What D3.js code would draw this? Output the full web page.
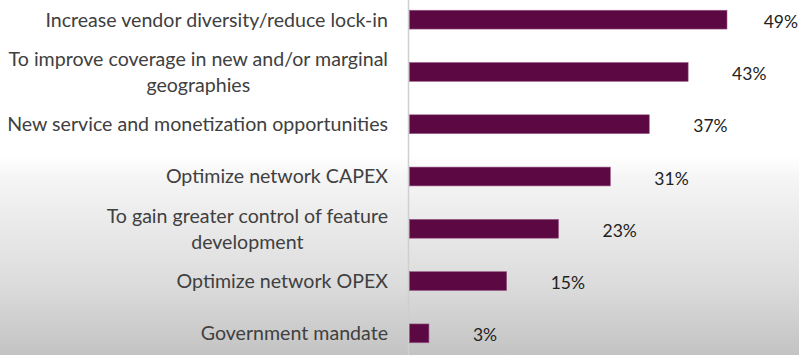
<!DOCTYPE html>
<html><head><meta charset="utf-8">
<script src="https://cdn.jsdelivr.net/npm/d3@7"></script>
<style>html,body{margin:0;padding:0;overflow:hidden;background:#fff}</style>
</head><body><svg id="c" width="799" height="355"></svg>
<script>
const categories = [
  ["Increase vendor diversity/reduce lock-in"],
  ["To improve coverage in new and/or marginal", "geographies"],
  ["New service and monetization opportunities"],
  ["Optimize network CAPEX"],
  ["To gain greater control of feature", "development"],
  ["Optimize network OPEX"],
  ["Government mandate"]
];
const values = [49, 43, 37, 31, 23, 15, 3];
const valueLabels = ["49%", "43%", "37%", "31%", "23%", "15%", "3%"];

const W = 799, H = 355;
const svg = d3.select("#c");
const defs = svg.append("defs");
const g = defs.append("linearGradient").attr("id","bg").attr("x1",0).attr("y1",0).attr("x2",0).attr("y2",1);
[[0,"#ffffff"],[0.44,"#ffffff"],[0.5,"#f5f5f5"],[0.8,"#dcdcdc"],[1,"#c3c3c3"]].forEach(s=>g.append("stop").attr("offset",s[0]).attr("stop-color",s[1]));
svg.append("rect").attr("width",W).attr("height",H).attr("fill","url(#bg)");

const x0 = 409.5;
const x = d3.scaleLinear().domain([0, 49]).range([x0, 727]);
const idx = d3.range(values.length);
const y = d3.scaleBand().domain(idx).range([-6.5, 359.5]).paddingInner(0.64).paddingOuter(0.32);

svg.append("line").attr("x1",408.5).attr("x2",408.5).attr("y1",0).attr("y2",H)
  .attr("stroke","#cfcfcf").attr("stroke-width",1.5);

svg.selectAll("rect.bar").data(idx).join("rect").attr("class","bar")
  .attr("x", x0).attr("y", i=>y(i)).attr("width", i=>x(values[i])-x0).attr("height", y.bandwidth())
  .attr("fill","#5c0843").attr("stroke","#9a5a86").attr("stroke-width",0.6);

const font = "Lato, 'Open Sans', sans-serif";
const labelRight = 388;
const cats = svg.selectAll("text.cat").data(idx).join("text").attr("class","cat")
  .attr("font-family",font).attr("font-size",19.6).attr("fill","#404040");
cats.each(function(i){
  const lines = categories[i];
  const cy = y(i) + y.bandwidth()/2;
  const t = d3.select(this);
  lines.forEach((l,k)=>{
    t.append("tspan").attr("text-anchor","end").attr("x",labelRight)
      .attr("y", cy + (k - (lines.length-1)/2)*26).attr("dy","0.35em").text(l);
  });
  if (lines.length>1){
    const widths=[];
    t.selectAll("tspan").each(function(){widths.push(this.getComputedTextLength());});
    const cx=labelRight-d3.max(widths)/2;
    t.selectAll("tspan").attr("text-anchor","middle").attr("x",cx);
  }
});

svg.selectAll("text.val").data(idx).join("text").attr("class","val")
  .attr("y", i=>y(i)+y.bandwidth()/2+2).attr("dy","0.35em")
  .attr("font-family",font).attr("font-size",17.5).attr("fill","#222")
  .text(i=>valueLabels[i])
  .attr("x", function(i){ return Math.min(x(values[i])+44, W - 1 - this.getComputedTextLength()); });
</script></body></html>
